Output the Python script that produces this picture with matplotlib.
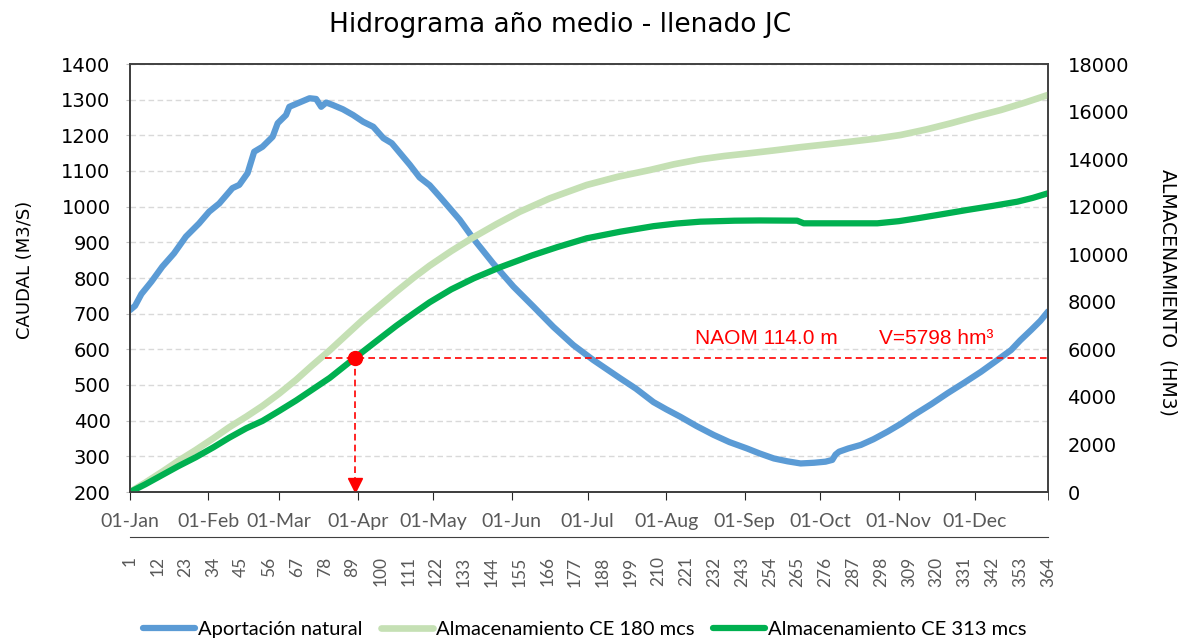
import matplotlib.pyplot as plt
from matplotlib import transforms

# Aportación natural (m3/s), left axis
q_days = [1, 3, 5.5, 9.5, 13.8, 18.4, 23.1, 28.3, 32.3, 36.3, 41.5, 44.2, 47.5, 50.1,
          53.4, 57.4, 59.4, 62.7, 64, 68, 72, 74.6, 76.6, 78.6, 81.2, 85.2, 89.2, 93.2,
          97.2, 101.2, 104.5, 107.8, 111.7, 115.5, 119.5, 123.5, 131.4, 136.7, 144.6,
          152.6, 160.5, 168.4, 176.3, 184.2, 194.8, 201, 208, 213, 218.6, 225, 231.8,
          238, 245, 250, 255.6, 261, 266.2, 271.5, 276, 278.7, 280, 281.4, 285, 290,
          295, 300.5, 306, 311, 318, 324.3, 331, 337.5, 343, 349.4, 353, 357.3, 361, 364]
q_flow = [710, 722, 755, 790, 832, 869, 916, 953, 986, 1009, 1052, 1061, 1094, 1154,
          1168, 1196, 1234, 1257, 1280, 1292, 1304, 1302, 1280, 1292, 1285, 1273, 1257, 1238,
          1224, 1192, 1178, 1150, 1117, 1082, 1060, 1028, 963, 911, 841,
          776, 720, 663, 612, 570, 519, 490, 452, 432, 411, 385, 360,
          340, 322, 308, 294, 286, 280, 282, 285, 290, 305, 313, 322, 332,
          348, 369, 392, 416, 447, 477, 507, 537, 565, 598, 625, 654, 680, 706]

# Almacenamiento CE 180 mcs (hm3), right axis
ce180_days = [1, 7, 14, 20, 27, 34, 40.2, 47, 53.4, 60, 66.7, 73, 80, 86.5, 93, 100,
              106.3, 113, 119.5, 128, 136.6, 146, 155, 167, 181.6, 194, 206.7, 216,
              226.5, 236, 246, 256, 266, 276, 286, 296, 305.8, 316, 325.6, 335, 345.4,
              355, 364]
ce180_vol = [0, 390, 870, 1300, 1767, 2260, 2720, 3170, 3620, 4140, 4720, 5320, 5960,
             6600, 7234, 7860, 8425, 9000, 9520, 10130, 10700, 11270, 11780, 12350, 12912,
             13260, 13544, 13780, 13993, 14130, 14246, 14370, 14500, 14615, 14734, 14860,
             15016, 15250, 15507, 15780, 16067, 16380, 16698]

# Almacenamiento CE 313 mcs (hm3), right axis
ce313_days = [1, 7, 14, 20, 27, 34, 40.2, 47, 53.4, 60, 66.7, 73, 80, 89.8, 98, 106.3,
              113, 119.5, 128, 137, 147.3, 160, 170, 181.6, 195, 208, 217, 226.5, 240,
              250, 264.8, 267.4, 296.5, 305, 312.4, 322, 332, 342, 351.9, 358, 364]
ce313_vol = [0, 320, 730, 1080, 1460, 1880, 2280, 2680, 2990, 3410, 3850, 4300, 4800,
             5630, 6310, 6990, 7500, 7980, 8520, 8990, 9450, 9950, 10300, 10670, 10950,
             11180, 11290, 11369, 11410, 11420, 11411, 11300, 11300, 11390, 11511, 11680,
             11861, 12030, 12210, 12370, 12563]

# NAOM marker
naom_day = 89.8
naom_line_vol = 5620
naom_line_start = 78
naom_text = "NAOM 114.0 m"
vol_text = "V=5798 hm³"

month_days = [1, 32, 60, 91, 121, 152, 182, 213, 244, 274, 305, 335]
month_labels = ["01-Jan", "01-Feb", "01-Mar", "01-Apr", "01-May", "01-Jun",
                "01-Jul", "01-Aug", "01-Sep", "01-Oct", "01-Nov", "01-Dec"]
day_ticks = list(range(1, 365, 11))

fig = plt.figure(figsize=(11.84, 6.41), dpi=100)
ax = fig.add_axes([130 / 1184, 1 - 492 / 641, 918 / 1184, 428 / 641])
ax2 = ax.twinx()

ax.plot(q_days, q_flow, color="#5B9BD5", lw=4.5, solid_capstyle="round",
        label="Aportación natural")
ax2.plot(ce180_days, ce180_vol, color="#C5E0B4", lw=4.8, solid_capstyle="round",
         label="Almacenamiento CE 180 mcs")
ax2.plot(ce313_days, ce313_vol, color="#00B050", lw=4.5, solid_capstyle="round",
         label="Almacenamiento CE 313 mcs")

# red NAOM lines, dot and arrow head
ax2.plot([naom_line_start, 364], [naom_line_vol, naom_line_vol], color="red",
         lw=1.2, dashes=(4, 2.5))
ax2.plot([naom_day, naom_day], [naom_line_vol, 0], color="red", lw=1.2, dashes=(4, 2.5))
ax2.plot([naom_day], [naom_line_vol], "o", color="red", ms=10)
tri = transforms.offset_copy(ax2.transData, fig=fig, y=5, units="points")
ax2.plot([naom_day], [0], "v", color="red", ms=10, transform=tri, clip_on=False)
ax2.text(224.5, 6435, naom_text, color="red", fontsize=15, family="Liberation Sans",
         va="center", ha="left")
ax2.text(297, 6435, vol_text, color="red", fontsize=15, family="Liberation Sans",
         va="center", ha="left")

# axes
ax.set_xlim(1, 364)
ax.set_ylim(200, 1400)
ax2.set_ylim(0, 18000)
ax.set_yticks(range(200, 1401, 100))
ax2.set_yticks(range(0, 18001, 2000))
ax.grid(axis="y", color="#d9d9d9", lw=1, dashes=(4, 2.5))
ax.set_axisbelow(True)

for a in (ax, ax2):
    for s in a.spines.values():
        s.set_color("#404040")
        s.set_linewidth(1.2)
ax.spines["left"].set_color("#262626")
ax.spines["bottom"].set_color("#262626")

ax.tick_params(axis="y", length=3, color="#bfbfbf", pad=11, labelsize=14)
ax2.tick_params(axis="y", length=0, pad=14, labelsize=14)

ax.set_xticks(month_days, month_labels)
ax.set_xticks([364], minor=True)
ax.tick_params(axis="x", which="both", length=6, color="#262626", pad=9,
               labelsize=14, labelcolor="#595959")
for lab in ax.get_xticklabels():
    lab.set_family("Lato")

sec = ax.secondary_xaxis(-0.105)
sec.set_xticks(day_ticks)
sec.tick_params(length=0, pad=14, labelrotation=90, labelsize=12.5, labelcolor="#595959")
sec.spines["bottom"].set_color("#404040")
sec.spines["top"].set_color("#404040")
for lab in sec.get_xticklabels():
    lab.set_family("Lato")

fig.text(560 / 1184, 1 - 25 / 641, "Hidrograma año medio - llenado JC", fontsize=19,
         ha="center", va="center")
fig.text(25 / 1184, 1 - 270 / 641, "CAUDAL (M3/S)", fontsize=13, rotation=90,
         ha="center", va="center")
fig.text(1168 / 1184, 1 - 292 / 641, "ALMACENAMIENTO  (HM3)", fontsize=13.5, rotation=270,
         ha="center", va="center")

h1, l1 = ax.get_legend_handles_labels()
h2, l2 = ax2.get_legend_handles_labels()
fig.legend(h1 + h2, l1 + l2, loc="center", bbox_to_anchor=(0.494, 1 - 629 / 641),
           ncol=3, frameon=False, prop={"family": "Lato", "size": 14.5},
           handlelength=2.6, handletextpad=0.15, columnspacing=0.9)

fig.savefig("out.png", dpi=100)
